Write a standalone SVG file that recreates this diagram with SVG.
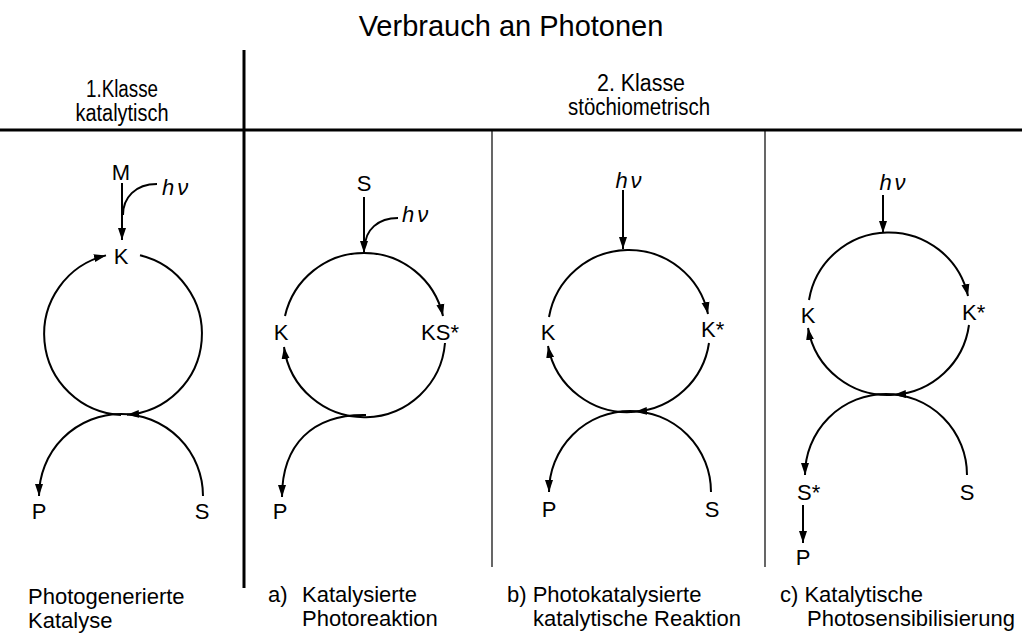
<svg xmlns="http://www.w3.org/2000/svg" width="1022" height="633" viewBox="0 0 1022 633">
<style>
text{font-family:"Liberation Sans",Arial,sans-serif;fill:#000}
.t{font-size:29px}
.h{font-size:23px}
.l{font-size:22px}
.c{text-anchor:middle}
.hv{font-size:22px;font-style:italic;letter-spacing:3px}
.cap{font-size:22px}
.ln{fill:none;stroke:#000;stroke-width:2}
.thick{stroke:#000;stroke-width:3}
.thin{stroke:#000;stroke-width:1.2}
</style>
<defs>
<marker id="ah" markerUnits="userSpaceOnUse" markerWidth="14" markerHeight="10" refX="12" refY="4.5" orient="auto">
<path d="M0,0.5 L12,4.5 L0,8.5 Z" fill="#000"/>
</marker>
</defs>
<g id="header">
<text class="t c" x="511" y="36">Verbrauch an Photonen</text>
<text class="h c" x="122" y="97" textLength="72" lengthAdjust="spacingAndGlyphs">1.Klasse</text>
<text class="h c" x="122" y="121" textLength="93" lengthAdjust="spacingAndGlyphs">katalytisch</text>
<text class="h c" x="641" y="91" textLength="88" lengthAdjust="spacingAndGlyphs">2. Klasse</text>
<text class="h c" x="639" y="115" textLength="142" lengthAdjust="spacingAndGlyphs">stöchiometrisch</text>
<line class="thick" x1="0" y1="130" x2="1022" y2="130"/>
<line class="thick" x1="244" y1="50" x2="244" y2="588"/>
<line class="thin" x1="492" y1="130" x2="492" y2="567"/>
<line class="thin" x1="765" y1="130" x2="765" y2="567"/>
</g>
<g id="panel1">
<text class="l c" x="121" y="180">M</text>
<text class="hv" x="162" y="195">hν</text>
<text class="l c" x="121" y="264">K</text>
<text class="l c" x="39" y="519">P</text>
<text class="l c" x="202" y="519">S</text>
<text class="cap" x="28" y="604">Photogenerierte</text>
<text class="cap" x="28" y="628">Katalyse</text>
</g>
<g id="panelA">
<text class="l c" x="364" y="191">S</text>
<text class="hv" x="402" y="222">hν</text>
<text class="l c" x="281" y="340">K</text>
<text class="l c" x="440" y="340">KS*</text>
<text class="l c" x="280" y="519">P</text>
<text class="cap" x="268" y="602">a)</text>
<text class="cap" x="302" y="602">Katalysierte</text>
<text class="cap" x="302" y="626">Photoreaktion</text>
</g>
<g id="panelB">
<text class="hv c" x="630" y="188">hν</text>
<text class="l c" x="548" y="340">K</text>
<text class="l" x="701" y="337">K*</text>
<text class="l c" x="549" y="517">P</text>
<text class="l c" x="712" y="517">S</text>
<text class="cap" x="507" y="602">b) Photokatalysierte</text>
<text class="cap" x="533" y="626">katalytische Reaktion</text>
</g>
<g id="panelC">
<text class="hv c" x="894" y="190">hν</text>
<text class="l c" x="808" y="323">K</text>
<text class="l" x="962" y="320">K*</text>
<text class="l" x="797" y="500">S*</text>
<text class="l c" x="967" y="500">S</text>
<text class="l c" x="803" y="565">P</text>
<text class="cap" x="780" y="602">c) Katalytische</text>
<text class="cap" x="807" y="626">Photosensibilisierung</text>
</g>
<g id="connectors">
<line class="ln" x1="122" y1="183" x2="122" y2="240" marker-end="url(#ah)"/>
<path class="ln" d="M157,184 C135,184 123,198 123,215"/>
<path class="ln" d="M121,415 A81,81 0 0 1 106,255.4" marker-end="url(#ah)"/>
<path class="ln" d="M140,255.3 A81,81 0 0 1 127,414.8" marker-end="url(#ah)"/>
<path class="ln" d="M203,496 A82,82 0 0 0 39,496" marker-end="url(#ah)"/>
<line class="ln" x1="364" y1="197" x2="364" y2="253" marker-end="url(#ah)"/>
<path class="ln" d="M398,218 C378,218 365,230 365,247"/>
<path class="ln" d="M285,316 A81,81 0 0 1 443,316" marker-end="url(#ah)"/>
<path class="ln" d="M445,343 A81,81 0 0 1 284,347" marker-end="url(#ah)"/>
<path class="ln" d="M366,415 C312,414 282,445 282,497" marker-end="url(#ah)"/>
<line class="ln" x1="623" y1="190" x2="623" y2="249" marker-end="url(#ah)"/>
<path class="ln" d="M549,317 A81,81 0 0 1 708,314" marker-end="url(#ah)"/>
<path class="ln" d="M709,343 A81,81 0 0 1 635,411.8" marker-end="url(#ah)"/>
<path class="ln" d="M635,411.8 A81,81 0 0 1 548,346" marker-end="url(#ah)"/>
<path class="ln" d="M711,492 A81,81 0 0 0 549,492" marker-end="url(#ah)"/>
<line class="ln" x1="883" y1="195" x2="883" y2="233" marker-end="url(#ah)"/>
<path class="ln" d="M809,300 A81,81 0 0 1 968,296" marker-end="url(#ah)"/>
<path class="ln" d="M969,325 A81,81 0 0 1 894,394.8" marker-end="url(#ah)"/>
<path class="ln" d="M894,394.8 A81,81 0 0 1 808,328" marker-end="url(#ah)"/>
<path class="ln" d="M967,475 A81,81 0 0 0 805,475" marker-end="url(#ah)"/>
<line class="ln" x1="803" y1="505" x2="803" y2="543" marker-end="url(#ah)"/>
</g>
</svg>
